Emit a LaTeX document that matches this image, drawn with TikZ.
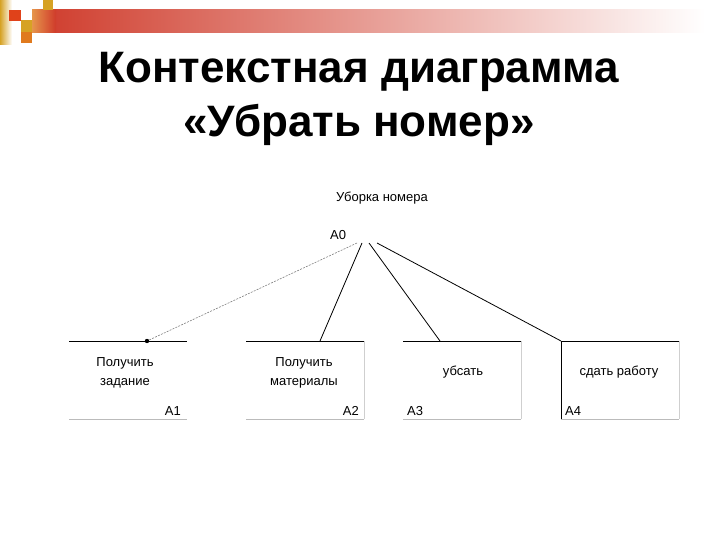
\documentclass[tikz,border=0pt]{standalone}
\usepackage{fontspec}
\setmainfont{Liberation Sans}
\usetikzlibrary{calc}
\definecolor{bannerred}{HTML}{CF3B2B}
\definecolor{bannermid}{HTML}{D98888}
\definecolor{goldc}{HTML}{D6A224}
\definecolor{orangec}{HTML}{E07A1E}
\definecolor{redsq}{HTML}{E0421A}
\definecolor{edgegray}{HTML}{BBBBBB}
\begin{document}
\begin{tikzpicture}[x=1pt,y=-1pt,
  titlefont/.style={font=\fontsize{44}{50}\selectfont\bfseries, inner sep=0pt, anchor=base},
  lbl/.style={font=\fontsize{13}{19}\selectfont, align=center, inner sep=0pt},
  code/.style={font=\fontsize{13}{15}\selectfont, inner sep=0pt},
  link/.style={black, line width=0.8pt},
  dotlink/.style={gray, line width=0.6pt, dash pattern=on 2pt off 1.2pt},
  topedge/.style={black, line width=0.9pt},
  lowedge/.style={edgegray, line width=0.8pt},
  sideedge/.style={edgegray!70, line width=0.7pt},
  boxnode/.style={minimum width=118pt, minimum height=78pt, inner sep=0pt, anchor=north west}]
\useasboundingbox (0,0) rectangle (720,540);
% banner
\shade[left color=goldc, right color=white] (0,0) rectangle (12,45);
\shade[left color=bannerred, middle color=bannermid, right color=white] (32,10) rectangle (705,33);
\shade[left color=orangec!80, right color=bannerred] (32,10) rectangle (56,33);
\fill[redsq] (9,10) rectangle (21,21);
\fill[goldc] (21,20) rectangle (32,32);
\fill[orangec] (21,32) rectangle (32,43);
\fill[goldc] (43,0) rectangle (53,10);
% title
\node[titlefont] (t1) at (359,83) {Контекстная диаграмма};
\node[titlefont] (t2) at (359,137) {«Убрать номер»};
% top activity
\node[code, anchor=base] (top) at (382,201.5) {Уборка номера};
\node[code, anchor=base west] (a0) at (330,239.5) {A0};
\coordinate (s1) at (357,243);
\coordinate (s2) at (362,243);
\coordinate (s3) at (369,243);
\coordinate (s4) at (377,243);
% boxes
\node[boxnode] (b1) at (69,341) {};
\node[boxnode] (b2) at (246,341) {};
\node[boxnode] (b3) at (403,341) {};
\node[boxnode] (b4) at (561,341) {};
% box edges
\foreach \b in {b1,b2,b3,b4}{
  \draw[topedge] (\b.north west) -- (\b.north east);
  \draw[lowedge] (\b.south west) -- (\b.south east);
}
\draw[sideedge] (b2.north east) -- (b2.south east);
\draw[sideedge] (b3.north east) -- (b3.south east);
\draw[sideedge] (b4.north east) -- (b4.south east);
\draw[topedge] (b4.north west) -- (b4.south west);
% texts in boxes
\node[lbl] (t1a) at (125,372.5) {Получить\\задание};
\node[lbl] (t2a) at (304,372.5) {Получить\\материалы};
\node[lbl] (t3a) at (463,372.5) {убсать};
\node[lbl] (t4a) at (619,372.5) {сдать работу};
\node[code, anchor=base east] (n1) at (181,415.5) {A1};
\node[code, anchor=base east] (n2) at (359,415.5) {A2};
\node[code, anchor=base west] (n3) at (407,415.5) {A3};
\node[code, anchor=base west] (n4) at (565,415.5) {A4};
% connectors
\coordinate (e1) at ($(b1.north west)+(78,0)$);
\coordinate (e2) at ($(b2.north west)+(74,0)$);
\coordinate (e3) at ($(b3.north west)+(37,0)$);
\draw[dotlink] (s1) -- (e1);
\fill[black] (e1) circle (2.2pt);
\draw[link] (s2) -- (e2);
\draw[link] (s3) -- (e3);
\draw[link] (s4) -- (b4.north west);
\end{tikzpicture}
\end{document}
